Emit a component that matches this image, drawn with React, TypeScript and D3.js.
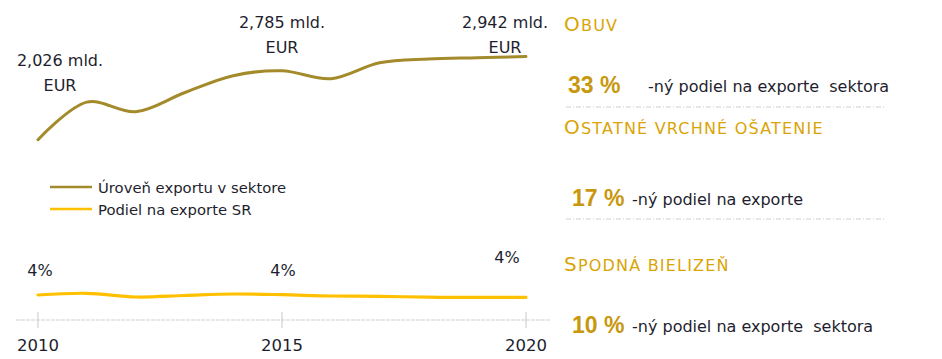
import React from 'react';
import * as d3 from 'd3';

// chart data
const years = [2010, 2011, 2012, 2013, 2014, 2015, 2016, 2017, 2018, 2019, 2020];
const exportLevel = [2.026, 2.44, 2.334, 2.543, 2.73, 2.785, 2.697, 2.873, 2.914, 2.928, 2.942]; // mld. EUR
const exportShare = [4.17, 4.45, 3.83, 4.08, 4.33, 4.22, 4.0, 3.95, 3.8, 3.78, 3.78]; // % of SR exports
const tickYears = [2010, 2015, 2020];
const labelYears = [2010, 2015, 2020];
const legendItems = ['Úroveň exportu v sektore', 'Podiel na exporte SR'];

// right panel
const segments = ['Obuv', 'Ostatné vrchné ošatenie', 'Spodná bielizeň'];
const segmentShares = [33, 17, 10];
const segmentTexts = ['-ný podiel na exporte  sektora', '-ný podiel na exporte', '-ný podiel na exporte  sektora'];

const FONT = "'DejaVu Sans', 'Liberation Sans', sans-serif";
const NUM_FONT = "'Liberation Sans', Arial, sans-serif";
const LEVEL_COLOR = '#A38B2C';
const SHARE_COLOR = '#FFC000';
const GOLD = '#D9A406';
const GOLD_DARK = '#C9970E';
const TEXT = '#1e1e2e';

export default function App() {
  const width = 942;
  const height = 359;

  const x = d3.scaleLinear().domain([2010, 2020]).range([38, 526]);
  const yLevel = d3.scaleLinear().domain([0, 3.2]).range([324, 33]);
  const yShare = d3.scaleLinear().domain([0, 5]).range([320, 290]);
  const axisY = 320;

  const levelLine = d3.line<number>()
    .x((_, i) => x(years[i]))
    .y(d => yLevel(d))
    .curve(d3.curveCatmullRom.alpha(0.5));
  const shareLine = d3.line<number>()
    .x((_, i) => x(years[i]))
    .y(d => yShare(d))
    .curve(d3.curveCatmullRom.alpha(0.5));

  const fmtLevel = (v: number) => v.toFixed(3).replace('.', ',') + ' mld.';

  // label offsets (layout only)
  const levelLabelPos: Record<number, { dx: number; top: number }> = {
    2010: { dx: 22, top: 66 },
    2015: { dx: 0, top: 28 },
    2020: { dx: -21, top: 28 },
  };
  const shareLabelPos: Record<number, { dx: number; y: number }> = {
    2010: { dx: 2, y: 276 },
    2015: { dx: 1, y: 276 },
    2020: { dx: -19, y: 263 },
  };

  // right panel layout
  const headY = [31, 134, 271];
  const numY = [93, 206, 333];
  const numX = [568, 572, 572];
  const txtX = [648, 632, 632];
  const sepY = [107, 219];

  return (
    <svg width={width} height={height} style={{ position: 'absolute', left: 0, top: 0, background: '#fff' }}
      fontFamily={FONT}>
      {/* x axis */}
      <line x1={16} x2={550} y1={axisY} y2={axisY} stroke="#d0d0d0" strokeWidth={1.2} strokeDasharray="4 1" />
      {tickYears.map(t => (
        <g key={t}>
          <line x1={x(t)} x2={x(t)} y1={axisY - 8} y2={axisY + 8} stroke="#d0d0d0" strokeWidth={1.2} />
          <text x={x(t)} y={axisY + 31} textAnchor="middle" fontSize={16.5} fill={TEXT}>{t}</text>
        </g>
      ))}

      {/* lines */}
      <path d={levelLine(exportLevel) ?? ''} fill="none" stroke={LEVEL_COLOR} strokeWidth={3} strokeLinecap="round" />
      <path d={shareLine(exportShare) ?? ''} fill="none" stroke={SHARE_COLOR} strokeWidth={3.2} strokeLinecap="round" />

      {/* data labels */}
      {labelYears.map(yr => {
        const i = years.indexOf(yr);
        const p = levelLabelPos[yr];
        const cx = x(yr) + p.dx;
        return (
          <text key={'l' + yr} textAnchor="middle" fontSize={16} fill={TEXT}>
            <tspan x={cx} y={p.top}>{fmtLevel(exportLevel[i])}</tspan>
            <tspan x={cx} y={p.top + 25}>EUR</tspan>
          </text>
        );
      })}
      {labelYears.map(yr => {
        const i = years.indexOf(yr);
        const p = shareLabelPos[yr];
        return (
          <text key={'s' + yr} x={x(yr) + p.dx} y={p.y} textAnchor="middle" fontSize={16} fill={TEXT}>
            {Math.round(exportShare[i])}%
          </text>
        );
      })}

      {/* legend */}
      {legendItems.map((name, i) => (
        <g key={name} transform={`translate(50, ${187 + i * 22})`}>
          <line x1={0} x2={42} y1={0} y2={0} stroke={i === 0 ? LEVEL_COLOR : SHARE_COLOR} strokeWidth={2.5} />
          <text x={48} y={5.5} fontSize={14.8} fill={TEXT}>{name}</text>
        </g>
      ))}

      {/* right panel */}
      {segments.map((name, i) => (
        <g key={name}>
          <text x={564} y={headY[i]} fill={GOLD} letterSpacing={1.2}>
            <tspan fontSize={20}>{name.charAt(0).toUpperCase()}</tspan>
            <tspan fontSize={16}>{name.slice(1).toUpperCase()}</tspan>
          </text>
          <text x={numX[i]} y={numY[i]} fontSize={23} fontWeight="bold" fill={GOLD_DARK} fontFamily={NUM_FONT}>
            {segmentShares[i]} %
          </text>
          <text x={txtX[i]} y={numY[i] - 1} fontSize={16} fill={TEXT} style={{ whiteSpace: 'pre' }}>
            {segmentTexts[i]}
          </text>
        </g>
      ))}
      {sepY.map(y => (
        <line key={y} x1={566} x2={884} y1={y} y2={y} stroke="#cfcfcf" strokeWidth={1} strokeDasharray="5 2 1 2" />
      ))}
    </svg>
  );
}
